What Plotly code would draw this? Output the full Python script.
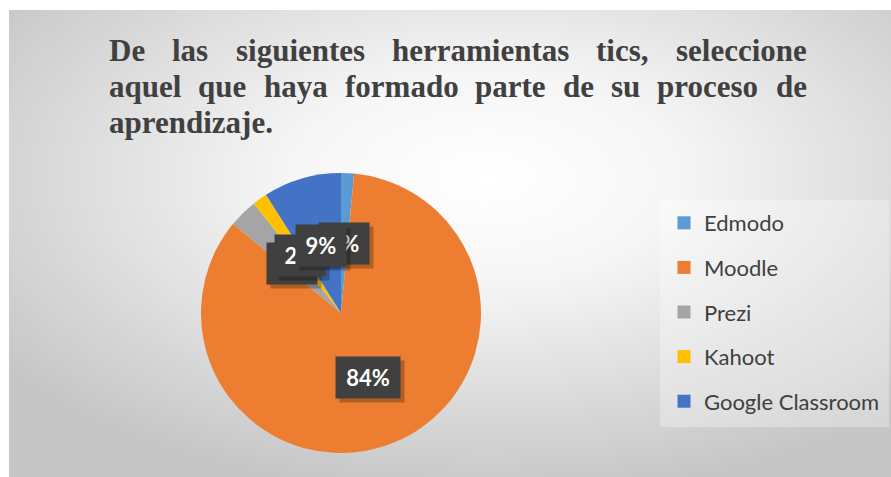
import base64
import math
import plotly.graph_objects as go

# ---------------- data ----------------
labels = ["Edmodo", "Moodle", "Prezi", "Kahoot", "Google Classroom"]
values = [1.5, 84.5, 3.3, 1.7, 9.0]
colors = ["#5B9BD5", "#ED7D31", "#A5A5A5", "#FFC000", "#4472C4"]
title_lines = [
    "De las siguientes herramientas tics, seleccione",
    "aquel que haya formado parte de su proceso de",
    "aprendizaje.",
]

# ---------------- geometry (pixels) ----------------
W, H = 891, 477
def X(px):
    return px / W
def Y(py):
    return 1 - py / H

cx, cy, r = 341, 313, 140

fig = go.Figure()

# background radial gradient (style only)
svg = (
    '<svg xmlns="http://www.w3.org/2000/svg" width="882" height="467">'
    '<defs><radialGradient id="g" cx="0.54" cy="0.36" r="0.68">'
    '<stop offset="0" stop-color="#ffffff"/>'
    '<stop offset="0.32" stop-color="#f6f6f6"/>'
    '<stop offset="1" stop-color="#c6c6c6"/>'
    '</radialGradient></defs>'
    '<rect width="882" height="467" fill="url(#g)"/></svg>'
)
src = "data:image/svg+xml;base64," + base64.b64encode(svg.encode()).decode()

fig.add_trace(go.Pie(
    labels=labels, values=values,
    marker=dict(colors=colors, line=dict(width=0)),
    sort=False, direction="clockwise", rotation=0,
    textinfo="none", hoverinfo="label+percent",
    showlegend=False,
    domain=dict(x=[X(cx - r), X(cx + r)], y=[Y(cy + r), Y(cy - r)]),
))

# legend entries (one group per category so spacing can match)
for lab, col in zip(labels, colors):
    fig.add_trace(go.Scatter(
        x=[None], y=[None], mode="markers", name=lab,
        marker=dict(symbol="square", size=13, color=col),
        legendgroup=lab, showlegend=True, hoverinfo="skip",
    ))

annotations = []

# data labels placed at mid-angle of each slice
total = sum(values)
cum = 0.0
for lab, v in zip(labels, values):
    mid = (cum + v / 2) / total * 2 * math.pi
    cum += v
    lx = cx + 0.5 * r * math.sin(mid)
    ly = cy - 0.5 * r * math.cos(mid)
    txt = f"{v / total * 100:.0f}%"
    bw = 14 * len(txt) + 6
    # shadow box
    annotations.append(dict(
        x=X(lx), y=Y(ly), xref="paper", yref="paper", showarrow=False,
        xanchor="center", yanchor="middle",
        text=" ", width=bw, height=25,
        font=dict(family="Lato", size=22, color="rgba(0,0,0,0)"),
        bgcolor="rgba(0,0,0,0.25)", borderpad=8, xshift=4, yshift=-4,
    ))
    annotations.append(dict(
        x=X(lx), y=Y(ly), xref="paper", yref="paper", showarrow=False,
        xanchor="center", yanchor="middle",
        text=txt, width=bw, height=25,
        font=dict(family="Lato", size=22, color="#ffffff", weight=700),
        bgcolor="#404040", borderpad=8,
    ))

# justified title: Times-compatible advance widths (Liberation Serif Bold)
adv = {
    " ": 250, ",": 250, ".": 250, "a": 500, "b": 556, "c": 444, "d": 556, "e": 444,
    "f": 333, "g": 500, "h": 556, "i": 278, "j": 333, "k": 556, "l": 278, "m": 833,
    "n": 556, "o": 500, "p": 556, "q": 556, "r": 444, "s": 389, "t": 333, "u": 556,
    "v": 500, "w": 722, "x": 500, "y": 500, "z": 444, "D": 722,
}
fs = 31
left, right = 108, 806
line_mid_y = [50, 87, 123]
def wwidth(w):
    return sum(adv.get(ch, 500) for ch in w) / 1000 * fs

for i, line in enumerate(title_lines):
    words = line.split(" ")
    widths = [wwidth(w) for w in words]
    if i < len(title_lines) - 1 and len(words) > 1:
        gap = (right - left - sum(widths)) / (len(words) - 1)
    else:
        gap = 0.25 * fs
    xpos = left
    for w, wd in zip(words, widths):
        annotations.append(dict(
            x=X(xpos), y=Y(line_mid_y[i]), xref="paper", yref="paper",
            xanchor="left", yanchor="middle", showarrow=False, text=w,
            font=dict(family="Liberation Serif", size=fs, color="#404040", weight=700),
            borderpad=0,
        ))
        xpos += wd + gap

fig.update_layout(
    width=W, height=H,
    margin=dict(l=0, r=0, t=0, b=0),
    paper_bgcolor="#ffffff",
    plot_bgcolor="rgba(0,0,0,0)",
    xaxis=dict(visible=False, domain=[0, 1]),
    yaxis=dict(visible=False, domain=[0, 1]),
    images=[dict(
        source=src, xref="paper", yref="paper",
        x=X(9), y=Y(10), sizex=X(W) - X(9), sizey=Y(10) - Y(H),
        xanchor="left", yanchor="top", sizing="stretch", layer="below",
    )],
    shapes=[dict(
        type="rect", xref="paper", yref="paper",
        x0=X(660), x1=X(889), y0=Y(427), y1=Y(200),
        fillcolor="rgba(255,255,255,0.3)", line=dict(width=0), layer="below",
    )],
    legend=dict(
        x=X(664), y=Y(202), xanchor="left", yanchor="top",
        bgcolor="rgba(0,0,0,0)", tracegroupgap=13,
        font=dict(family="Lato", size=22, color="#404040"),
        itemclick=False, itemdoubleclick=False,
    ),
    annotations=annotations,
    showlegend=True,
)

fig.write_html("out.html", config={"displayModeBar": False},
               post_script="document.body.style.margin='0';")
